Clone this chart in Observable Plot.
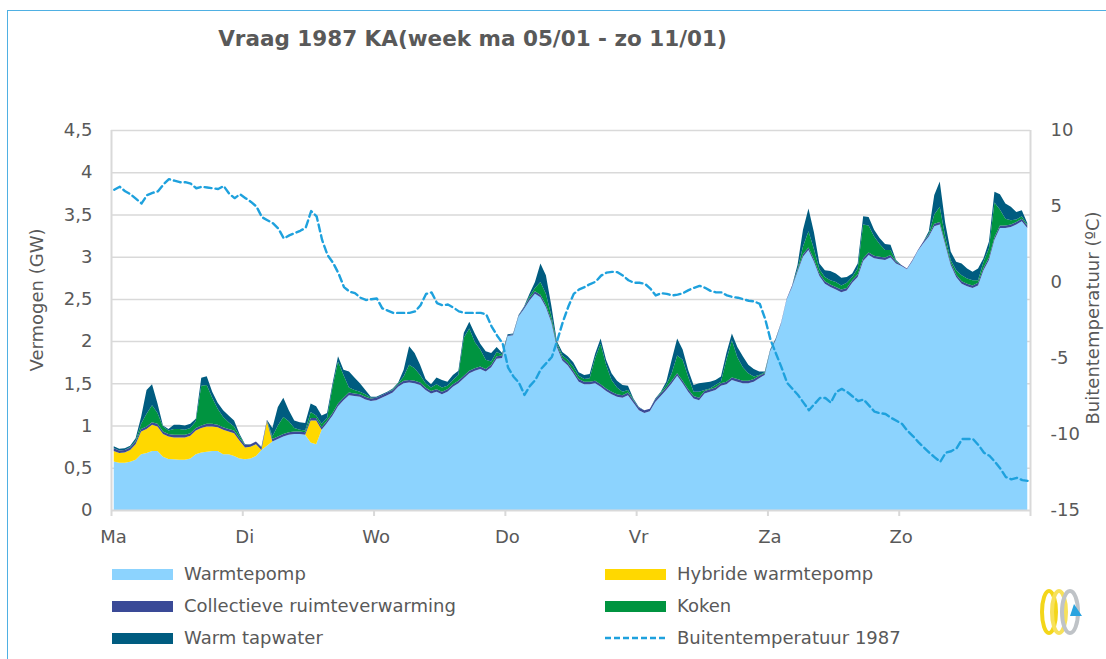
<!DOCTYPE html>
<html><head><meta charset="utf-8">
<script src="https://cdn.jsdelivr.net/npm/d3@7"></script>
<script src="https://cdn.jsdelivr.net/npm/@observablehq/plot@0.6"></script>
<style>
body{margin:0;background:#fff;}
#wrap{position:relative;width:1106px;height:659px;overflow:hidden;font-family:"DejaVu Sans",sans-serif;color:#595959;}
#frame{position:absolute;left:7px;top:10px;width:1300px;height:900px;border:1.5px solid #4FB0E3;box-sizing:border-box;}
#chart{position:absolute;left:0;top:0;}
#title{position:absolute;left:0;width:945px;top:26px;text-align:center;font-weight:bold;font-size:21.5px;}
.rot{position:absolute;width:300px;height:22px;line-height:22px;text-align:center;font-size:18px;transform:rotate(-90deg);}
.leg{position:absolute;font-size:18px;line-height:22px;white-space:nowrap;}
.sw{position:absolute;width:61px;height:11px;}
</style></head>
<body><div id="wrap">
<div id="frame"></div>
<div id="chart"></div>
<div id="title">Vraag 1987 KA(week ma 05/01 - zo 11/01)</div>
<div class="rot" style="left:-113px;top:289px;">Vermogen (GW)</div>
<div class="rot" style="left:943px;top:307px;">Buitentemperatuur (ºC)</div>
<div id="legend"></div>
<svg style="position:absolute;left:1030px;top:582px" width="70" height="60">
  <ellipse cx="19" cy="30" rx="7" ry="21" fill="none" stroke="#F3D61A" stroke-width="4"/>
  <ellipse cx="29" cy="30" rx="7" ry="21" fill="none" stroke="#F7E15A" stroke-width="4"/>
  <ellipse cx="40" cy="30" rx="8" ry="21" fill="none" stroke="#BFC3C7" stroke-width="4"/>
  <polygon points="44,22 52,34 40,34" fill="#2AA3DF"/>
</svg>
</div>
<script>
const dayLabels = ["Ma","Di","Wo","Do","Vr","Za","Zo"];
const seriesNames = ["Warmtepomp","Hybride warmtepomp","Collectieve ruimteverwarming","Koken","Warm tapwater"];
const seriesColors = ["#8CD3FE","#FFD800","#3A4A97","#009440","#005C80"];
const yTickValues = [0,0.5,1,1.5,2,2.5,3,3.5,4,4.5];
const tempTickValues = [10,5,0,-5,-10,-15];

const warmtepomp = [
.575,.56,.56,.57,.595,.66,.675,.70,.70,.63,.605,.60,.595,.595,.61,.66,.68,.69,.70,.70,.66,.66,.64,.61,
.60,.61,.64,.71,.76,.81,.84,.87,.89,.90,.90,.89,.80,.78,.95,1.03,1.12,1.23,1.30,1.36,1.35,1.34,1.31,1.29,
1.30,1.33,1.36,1.39,1.46,1.50,1.51,1.50,1.48,1.42,1.38,1.40,1.37,1.40,1.46,1.50,1.56,1.62,1.65,1.67,1.64,1.69,1.79,1.80,
2.06,2.07,2.29,2.38,2.48,2.56,2.52,2.40,2.22,1.93,1.77,1.71,1.62,1.52,1.49,1.49,1.50,1.46,1.41,1.37,1.34,1.33,1.36,1.27,
1.18,1.15,1.17,1.28,1.35,1.42,1.50,1.59,1.50,1.40,1.32,1.30,1.38,1.40,1.42,1.47,1.49,1.54,1.52,1.50,1.50,1.52,1.56,1.60,
1.88,2.01,2.21,2.49,2.64,2.82,3.00,3.08,2.94,2.77,2.68,2.64,2.61,2.58,2.60,2.69,2.76,2.95,3.02,2.98,2.97,2.96,2.99,2.92,
2.89,2.85,2.95,3.07,3.16,3.24,3.36,3.38,3.14,2.90,2.76,2.68,2.65,2.63,2.66,2.84,2.96,3.20,3.34,3.34,3.35,3.38,3.42,3.34];

const hybride = [
.125,.115,.12,.14,.185,.27,.285,.31,.29,.27,.265,.26,.265,.265,.27,.28,.29,.30,.29,.28,.29,.27,.27,.21,
.14,.14,.14,0,.29,0,0,0,0,0,0,0,.26,.28,0,0,0,0,0,0,0,0,0,0,
0,0,0,0,0,0,0,0,0,0,0,0,0,0,0,0,0,0,0,0,0,0,0,0,
0,0,0,0,0,0,0,0,0,0,0,0,0,0,0,0,0,0,0,0,0,0,0,0,
0,0,0,0,0,0,0,0,0,0,0,0,0,0,0,0,0,0,0,0,0,0,0,0,
0,0,0,0,0,0,0,0,0,0,0,0,0,0,0,0,0,0,0,0,0,0,0,0,
0,0,0,0,0,0,0,0,0,0,0,0,0,0,0,0,0,0,0,0,0,0,0,0];

const collectief = [
.03,.03,.03,.03,.03,.03,.03,.03,.03,.03,.03,.03,.03,.03,.03,.03,.03,.03,.03,.03,.03,.03,.03,.03,
.03,.03,.03,.03,.02,.03,.03,.03,.03,.03,.03,.03,.03,.03,.03,.03,.03,.03,.03,.03,.03,.03,.03,.03,
.03,.03,.03,.03,.03,.03,.03,.03,.03,.03,.03,.03,.03,.03,.03,.03,.03,.03,.03,.03,.03,.03,.03,.03,
.01,.01,.01,.02,.03,.03,.03,.03,.03,.03,.03,.03,.03,.03,.03,.03,.03,.03,.03,.03,.03,.03,.03,.03,
.03,.03,.03,.03,.03,.03,.03,.03,.03,.03,.03,.03,.03,.03,.03,.03,.03,.03,.03,.03,.03,.03,.03,.02,
.01,.01,.01,.01,.02,.02,.03,.03,.03,.03,.03,.03,.03,.03,.03,.03,.03,.03,.03,.03,.03,.03,.03,.02,
.01,.01,.01,.01,.02,.02,.03,.03,.03,.03,.03,.03,.03,.03,.03,.03,.03,.03,.03,.03,.03,.03,.03,.03];

const koken = [
.005,0,0,.005,.01,.06,.15,.20,.13,.06,.04,.07,.07,.06,.06,.08,.47,.46,.31,.19,.12,.08,.05,.03,
0,0,0,0,0,.03,.13,.20,.13,.04,.02,.02,.07,.03,.04,.03,.31,.50,.27,.06,.04,.03,.03,.01,
0,0,0,.01,.01,.05,.18,.15,.09,.05,.04,.06,.05,.04,.05,.07,.45,.50,.31,.20,.11,.04,.05,.01,
0,0,0,0,.02,.04,.15,.13,.05,.02,.03,.04,.05,.04,.03,.04,.27,.48,.28,.14,.08,.04,.03,.01,
0,0,0,0,.01,.03,.09,.21,.25,.15,.05,.07,.01,.01,.03,.02,.26,.44,.26,.16,.09,.03,.01,.01,
0,0,0,0,0,.01,.09,.19,.12,.05,.05,.05,.06,.05,.06,.04,.07,.40,.32,.23,.15,.09,.06,.01,
0,0,0,0,0,.01,.11,.18,.07,.03,.05,.07,.06,.06,.03,.07,.11,.41,.19,.08,.05,.03,.03,.01];

const tapwater = [
.02,.02,.02,.015,.03,.08,.28,.25,.11,.01,.02,.05,.05,.05,.05,.03,.095,.105,.07,.07,.08,.08,.07,.02,
.01,0,0,.01,0,.10,.22,.23,.13,.09,.09,.09,.10,.11,.10,.06,.04,.06,.06,.19,.15,.10,.05,.01,
.01,.01,.01,.01,.01,.08,.22,.18,.12,.05,.04,.08,.09,.05,.06,.05,.06,.08,.10,.07,.10,.10,.06,.02,
.01,.01,.01,.01,.03,.07,.22,.22,.12,.02,.04,.04,.05,.04,.05,.05,.05,.06,.06,.08,.08,.08,.05,.01,
.01,0,0,.01,.01,.04,.16,.20,.12,.08,.08,.10,.09,.08,.06,.06,.08,.08,.12,.13,.10,.09,.04,.01,
.01,.01,0,0,0,.05,.20,.27,.20,.07,.08,.11,.10,.09,.07,.04,.06,.10,.10,.08,.07,.07,.06,.01,
0,0,0,0,0,.03,.23,.30,.16,.10,.10,.14,.12,.10,.14,.04,.08,.13,.18,.18,.16,.09,.07,.02];

const buitentemp = [
6.1,6.3,6.0,5.8,5.5,5.2,5.75,5.9,6.0,6.45,6.8,6.7,6.6,6.6,6.5,6.2,6.3,6.25,6.2,6.15,6.35,5.85,5.55,5.8,
5.55,5.3,5.0,4.3,4.1,3.9,3.55,2.9,3.1,3.25,3.4,3.6,4.7,4.35,2.8,1.8,1.3,0.6,-0.3,-0.6,-0.7,-1.0,-1.15,-1.1,
-1.05,-1.7,-1.85,-2.0,-2.0,-2.0,-2.0,-1.9,-1.5,-0.75,-0.65,-1.35,-1.5,-1.45,-1.65,-1.9,-2.0,-2.0,-2.0,-2.0,-2.1,-2.9,-3.5,-4.0,
-5.6,-6.2,-6.6,-7.4,-6.8,-6.4,-5.7,-5.3,-4.9,-3.8,-2.6,-1.6,-0.75,-0.45,-0.3,-0.1,0.05,0.45,0.65,0.7,0.68,0.45,0.15,-0.02,
-0.02,-0.08,-0.4,-0.85,-0.7,-0.75,-0.85,-0.8,-0.7,-0.5,-0.35,-0.22,-0.35,-0.55,-0.65,-0.65,-0.85,-0.95,-1.0,-1.1,-1.2,-1.25,-1.4,-2.4,
-3.8,-4.7,-5.6,-6.6,-7.0,-7.4,-7.9,-8.4,-8.0,-7.6,-7.6,-7.9,-7.2,-7.0,-7.2,-7.5,-7.8,-7.7,-8.1,-8.5,-8.6,-8.65,-8.9,-9.1,
-9.3,-9.75,-10.1,-10.5,-10.85,-11.2,-11.5,-11.8,-11.2,-11.1,-10.9,-10.3,-10.3,-10.3,-10.7,-11.2,-11.4,-11.8,-12.25,-12.8,-12.95,-12.85,-13.0,-13.05];

const seriesValues = [warmtepomp, hybride, collectief, koken, tapwater];
const stacked = [];
seriesNames.forEach((s, k) => {
  seriesValues[k].forEach((v, i) => stacked.push({hour: i + 0.5, value: v, serie: s}));
});
// temperature drawn on the right axis: -15..10 °C mapped onto 0..4.5 GW
const tToY = t => (t + 15) / 25 * 4.5;
const yToT = y => y / 4.5 * 25 - 15;
const temps = buitentemp.map((t, i) => ({hour: i + 0.5, t}));
const dayStarts = dayLabels.map((d, i) => i * 24);
const dayTicks = [...dayStarts, 168];

const chart = Plot.plot({
  width: 1106, height: 560,
  marginLeft: 111, marginRight: 76, marginTop: 130, marginBottom: 50,
  style: {fontFamily: "DejaVu Sans, sans-serif", fontSize: "18px", color: "#595959", background: "transparent", overflow: "visible"},
  x: {domain: [0, 168]},
  y: {domain: [0, 4.5]},
  color: {domain: seriesNames, range: seriesColors},
  marks: [
    Plot.gridY(yTickValues.slice(1), {stroke: "#D9D9D9", strokeOpacity: 1, strokeWidth: 1.5}),
    Plot.areaY(stacked, {x: "hour", y: "value", z: "serie", fill: "serie", order: seriesNames, curve: "linear"}),
    Plot.line(temps, {x: "hour", y: d => tToY(d.t), stroke: "#1EA1DD", strokeWidth: 2.4, strokeDasharray: "7,4"}),
    Plot.ruleY([0], {stroke: "#D9D9D9", strokeWidth: 2}),
    Plot.ruleX([0, 168], {y1: 0, y2: 4.5, stroke: "#D9D9D9", strokeWidth: 2}),
    Plot.axisX(dayTicks, {tickSize: 6, tickFormat: () => "", stroke: "#D9D9D9", strokeWidth: 2, label: null}),
    Plot.axisX(dayStarts, {tickSize: 0, tickPadding: 20, dx: 2, tickFormat: d => dayLabels[d / 24], fill: "#595959", label: null}),
    Plot.axisY(yTickValues, {tickSize: 0, tickPadding: 19, tickFormat: d => String(d).replace(".", ","), fill: "#595959", label: null}),
    Plot.axisY(tempTickValues.map(tToY), {anchor: "right", tickSize: 0, tickPadding: 20, tickFormat: d => String(Math.round(yToT(d))), fill: "#595959", label: null})
  ]
});
document.getElementById("chart").appendChild(chart);

// legend
const legendItems = [
  {name: "Warmtepomp", color: seriesColors[0], col: 0, row: 0},
  {name: "Hybride warmtepomp", color: seriesColors[1], col: 1, row: 0},
  {name: "Collectieve ruimteverwarming", color: seriesColors[2], col: 0, row: 1},
  {name: "Koken", color: seriesColors[3], col: 1, row: 1},
  {name: "Warm tapwater", color: seriesColors[4], col: 0, row: 2},
  {name: "Buitentemperatuur 1987", color: null, col: 1, row: 2}
];
const leg = document.getElementById("legend");
const colX = [112, 605], rowY = [574, 606, 638];
legendItems.forEach(it => {
  const cx = colX[it.col], cy = rowY[it.row];
  if (it.color) {
    const sw = document.createElement("div");
    sw.className = "sw";
    sw.style.left = cx + "px"; sw.style.top = (cy - 5) + "px"; sw.style.background = it.color;
    leg.appendChild(sw);
  } else {
    const s = document.createElementNS("http://www.w3.org/2000/svg", "svg");
    s.setAttribute("width", 62); s.setAttribute("height", 6);
    s.style.position = "absolute"; s.style.left = cx + "px"; s.style.top = (cy - 3) + "px";
    s.innerHTML = '<line x1="0" y1="3" x2="61" y2="3" stroke="#1EA1DD" stroke-width="2.4" stroke-dasharray="6,3"/>';
    leg.appendChild(s);
  }
  const t = document.createElement("div");
  t.className = "leg";
  t.textContent = it.name;
  t.style.left = (cx + 72) + "px"; t.style.top = (cy - 11) + "px";
  leg.appendChild(t);
});
</script>
</body></html>
